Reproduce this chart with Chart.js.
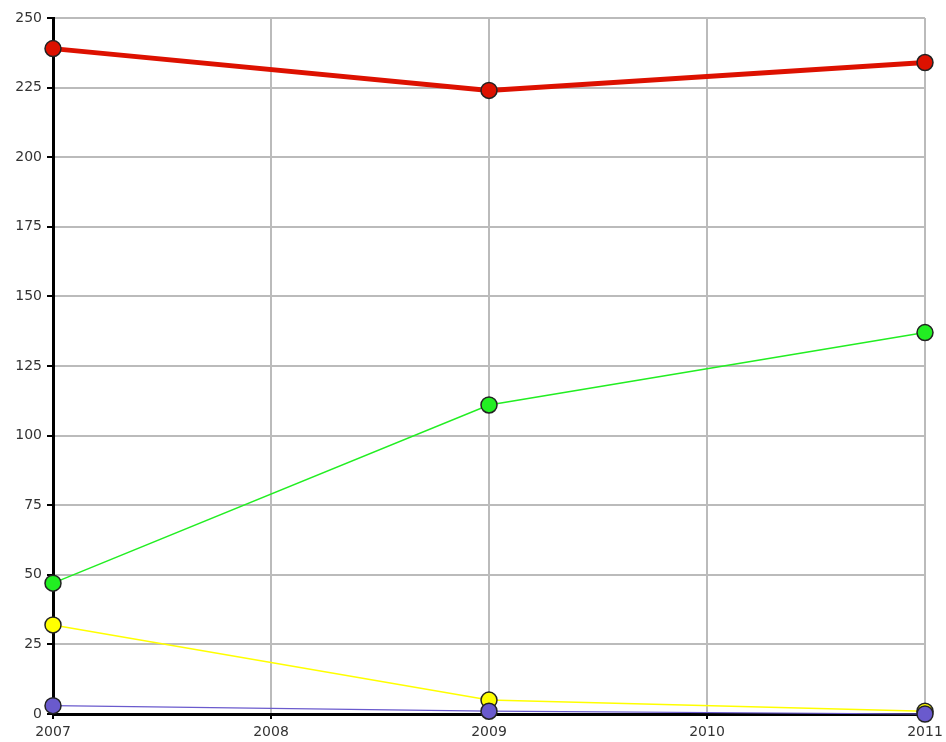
<!DOCTYPE html>
<html>
<head>
<meta charset="utf-8">
<script src="https://cdn.jsdelivr.net/npm/chart.js@4/dist/chart.umd.min.js"></script>
<style>
  html, body { margin: 0; padding: 0; background: #fff; }
  #wrap { width: 946px; height: 742px; position: relative; }
</style>
</head>
<body>
<div id="wrap"><canvas id="chart"></canvas></div>
<script>
const years = [2007, 2009, 2011];
const redValues = [239, 224, 234];
const greenValues = [47, 111, 137];
const yellowValues = [32, 5, 1];
const purpleValues = [3, 1, 0];
const yTicks = [0, 25, 50, 75, 100, 125, 150, 175, 200, 225, 250];

function toPoints(values) {
  return values.map((v, i) => ({ x: years[i], y: v }));
}

function series(values, color, width) {
  return {
    data: toPoints(values),
    borderColor: color,
    backgroundColor: color,
    borderWidth: width,
    pointRadius: 8,
    pointHoverRadius: 8,
    pointBackgroundColor: color,
    pointBorderColor: '#222',
    pointBorderWidth: 1.5,
    tension: 0,
    clip: false,
  };
}

Chart.defaults.font.family = '"DejaVu Sans", Verdana, sans-serif';
Chart.defaults.font.size = 14;
Chart.defaults.color = '#333';

new Chart(document.getElementById('chart'), {
  type: 'line',
  data: {
    datasets: [
      series(redValues, '#dd1100', 5),
      series(greenValues, '#22ee22', 1.5),
      series(purpleValues, '#6a5acd', 1.2),
      series(yellowValues, '#ffff00', 1.5),
    ],
  },
  options: {
    responsive: true,
    maintainAspectRatio: false,
    animation: false,
    layout: { padding: { top: 18, right: 21, left: 0, bottom: 0 } },
    plugins: { legend: { display: false }, tooltip: { enabled: false } },
    scales: {
      x: {
        type: 'linear',
        min: 2007,
        max: 2011,
        ticks: { stepSize: 1, padding: 5, callback: (v) => String(v) },
        grid: { color: '#bbb', lineWidth: 2, tickColor: '#000', tickLength: 5 },
        border: { color: '#000', width: 3 },
        afterFit: (s) => {
          s.height = 28;
          s.paddingLeft = 0;
          s.paddingRight = 0;
        },
      },
      y: {
        min: 0,
        max: 250,
        afterBuildTicks: (s) => { s.ticks = yTicks.map((v) => ({ value: v })); },
        ticks: { padding: 5 },
        grid: { color: '#bbb', lineWidth: 2, tickColor: '#000', tickLength: 6 },
        border: { color: '#000', width: 3 },
        afterFit: (s) => {
          s.width = 53;
          s.paddingTop = 0;
          s.paddingBottom = 0;
        },
      },
    },
  },
});
</script>
</body>
</html>
